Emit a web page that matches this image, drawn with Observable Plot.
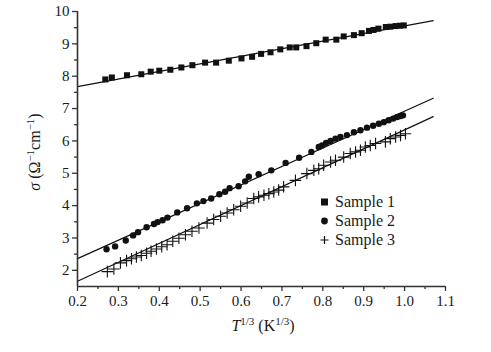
<!DOCTYPE html>
<html><head><meta charset="utf-8">
<script src="https://cdn.jsdelivr.net/npm/d3@7"></script>
<script src="https://cdn.jsdelivr.net/npm/@observablehq/plot@0.6"></script>
<style>
body{margin:0;background:#fff;}
#wrap{position:relative;width:491px;height:352px;font-family:"Liberation Serif","Times New Roman",serif;}
#legend{position:absolute;left:318px;top:192px;font-size:16px;line-height:19px;color:#1a1a1a;}
#legend div{display:flex;align-items:center;height:19px;}
#legend svg{width:14px;height:19px;margin-right:3px;}
</style></head>
<body><div id="wrap"><div id="legend"></div></div>
<script>
const sample1X = [0.268,0.284,0.321,0.356,0.379,0.400,0.427,0.454,0.481,0.512,0.539,0.570,0.601,0.627,0.649,0.672,0.696,0.719,0.735,0.760,0.784,0.807,0.833,0.851,0.876,0.895,0.913,0.924,0.936,0.954,0.965,0.978,0.988,0.998];
const sample1Y = [7.90,7.96,8.03,8.06,8.14,8.17,8.20,8.27,8.34,8.42,8.42,8.48,8.55,8.60,8.69,8.74,8.83,8.89,8.89,8.93,9.02,9.13,9.13,9.23,9.27,9.33,9.40,9.43,9.47,9.52,9.53,9.55,9.56,9.57];
const sample2X = [0.271,0.292,0.318,0.336,0.348,0.369,0.387,0.396,0.408,0.420,0.444,0.468,0.492,0.508,0.527,0.547,0.561,0.572,0.594,0.610,0.619,0.643,0.674,0.709,0.742,0.772,0.790,0.798,0.808,0.819,0.831,0.843,0.859,0.876,0.892,0.908,0.923,0.937,0.949,0.961,0.972,0.982,0.990,0.996];
const sample2Y = [2.65,2.74,2.92,3.08,3.18,3.33,3.43,3.49,3.55,3.63,3.79,3.92,4.07,4.14,4.22,4.35,4.43,4.54,4.60,4.75,4.89,4.97,5.09,5.32,5.48,5.66,5.81,5.86,5.94,6.00,6.07,6.12,6.18,6.27,6.33,6.41,6.47,6.53,6.58,6.64,6.69,6.74,6.77,6.79];
const sample3X = [0.273,0.289,0.305,0.320,0.332,0.344,0.356,0.369,0.380,0.393,0.406,0.419,0.433,0.448,0.464,0.480,0.497,0.517,0.533,0.550,0.566,0.582,0.599,0.615,0.631,0.643,0.656,0.668,0.680,0.692,0.704,0.733,0.761,0.778,0.790,0.802,0.819,0.831,0.851,0.867,0.880,0.892,0.904,0.916,0.929,0.953,0.965,0.978,0.990,1.002];
const sample3Y = [1.96,2.04,2.23,2.30,2.36,2.41,2.46,2.53,2.59,2.66,2.73,2.79,2.90,2.99,3.10,3.21,3.31,3.46,3.57,3.67,3.77,3.87,3.98,4.08,4.22,4.27,4.32,4.37,4.42,4.48,4.58,4.78,4.99,5.09,5.14,5.25,5.35,5.40,5.50,5.61,5.66,5.71,5.81,5.86,5.92,5.97,6.07,6.12,6.17,6.22];
const seriesNames = ["Sample 1","Sample 2","Sample 3"];
const fitSlope = [2.345, 5.701, 5.851];
const fitIntercept = [7.211, 1.220, 0.490];
const fitRange = [0.2, 1.07];
const xTicks = [0.2,0.3,0.4,0.5,0.6,0.7,0.8,0.9,1.0,1.1];
const xTickLabels = ["0.2","0.3","0.4","0.5","0.6","0.7","0.8","0.9","1.0","1.1"];
const yTicks = [2,3,4,5,6,7,8,9,10];
const xMinor = [0.25,0.35,0.45,0.55,0.65,0.75,0.85,0.95,1.05];
const yMinor = [2.5,3.5,4.5,5.5,6.5,7.5,8.5,9.5];

const pts = (xs, ys, s) => xs.map((x,i)=>({x, y: ys[i], s}));
const d1 = pts(sample1X, sample1Y, seriesNames[0]);
const d2 = pts(sample2X, sample2Y, seriesNames[1]);
const d3p = pts(sample3X, sample3Y, seriesNames[2]);
const fits = fitSlope.flatMap((m,i)=>fitRange.map(x=>({x, y: fitIntercept[i]+m*x, s: seriesNames[i]})));

const ink = "#111";
const txt = "#1a1a1a";
const axisCol = "#333";
const plot = Plot.plot({
  width: 491, height: 352,
  marginLeft: 77, marginRight: 46, marginTop: 11, marginBottom: 66,
  style: {fontFamily: '"Liberation Serif","Times New Roman",serif', fontSize: "15px", color: txt, background: "#fff"},
  x: {domain: [0.2, 1.1]},
  y: {domain: [1.5, 10]},
  marks: [
    Plot.line(fits, {x:"x", y:"y", z:"s", stroke: ink, strokeWidth: 1.2}),
    Plot.dot(d1, {x:"x", y:"y", symbol:"square", r: 3.4, fill: ink, stroke: "none"}),
    Plot.dot(d2, {x:"x", y:"y", symbol:"circle", r: 3.2, fill: ink, stroke: "none"}),
    Plot.dot(d3p, {x:"x", y:"y", symbol:"plus", r: 3.8, stroke: ink, strokeWidth: 1.1}),
    Plot.ruleX([0.2], {stroke: axisCol, strokeWidth: 1.6}),
    Plot.ruleY([1.5], {stroke: axisCol, strokeWidth: 1.6}),
    Plot.axisX({ticks: xTicks, tickFormat: (d,i)=>xTickLabels[i], tickSize: 5, tickPadding: 4, stroke: axisCol, strokeWidth: 1.3, label: null, fontSize: 15}),
    Plot.axisX({ticks: xMinor, tickFormat: () => "", tickSize: 3, stroke: axisCol, strokeWidth: 1.3, label: null}),
    Plot.axisY({ticks: yTicks, tickSize: 5, tickPadding: 3, stroke: axisCol, strokeWidth: 1.3, label: null, fontSize: 15}),
    Plot.axisY({ticks: yMinor, tickFormat: () => "", tickSize: 3, stroke: axisCol, strokeWidth: 1.3, label: null})
  ]
});
document.getElementById("wrap").prepend(plot);

const svg = d3.select(plot);
// y label
const yl = svg.append("text")
  .attr("transform", "translate(40,152) rotate(-90)")
  .attr("text-anchor", "middle")
  .attr("font-size", 16).attr("fill", txt);
yl.append("tspan").attr("font-style","italic").text("σ");
yl.append("tspan").text(" (Ω");
yl.append("tspan").attr("font-size",11).attr("dy",-6).text("−1");
yl.append("tspan").attr("dy",6).text("cm");
yl.append("tspan").attr("font-size",11).attr("dy",-6).text("−1");
yl.append("tspan").attr("dy",6).text(")");
// x label
const xl = svg.append("text")
  .attr("x", 263).attr("y", 331)
  .attr("text-anchor", "middle")
  .attr("font-size", 16).attr("fill", txt);
xl.append("tspan").attr("font-style","italic").text("T");
xl.append("tspan").attr("font-size",11).attr("dy",-6).text("1/3");
xl.append("tspan").attr("dy",6).text(" (K");
xl.append("tspan").attr("font-size",11).attr("dy",-6).text("1/3");
xl.append("tspan").attr("dy",6).text(")");

// legend
const sym = [
  '<rect x="3" y="6.5" width="7" height="7" fill="#111"/>',
  '<circle cx="6.5" cy="10" r="3.4" fill="#111"/>',
  '<path d="M2.5 10h8M6.5 6v8" stroke="#111" stroke-width="1.2"/>'
];
const lg = document.getElementById("legend");
seriesNames.forEach((n,i)=>{
  const row = document.createElement("div");
  row.innerHTML = `<svg viewBox="0 0 14 19">${sym[i]}</svg><span>${n}</span>`;
  lg.appendChild(row);
});
</script>
</body></html>
